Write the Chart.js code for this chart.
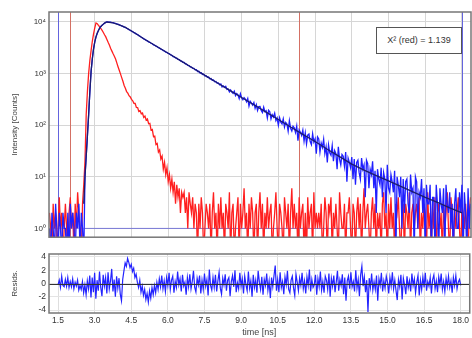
<!DOCTYPE html>
<html><head><meta charset="utf-8">
<script src="https://cdn.jsdelivr.net/npm/chart.js@4.4.0/dist/chart.umd.min.js"></script>
<style>
html,body{margin:0;padding:0;background:#fff;}
#wrap{position:relative;width:472px;height:338px;overflow:hidden;font-family:"Liberation Sans",Arial,sans-serif;}
#c1{position:absolute;left:0;top:0;}
#c2{position:absolute;left:0;top:245px;}
#chi{position:absolute;left:376px;top:27px;width:86px;height:27px;box-sizing:border-box;border:1px solid #555;background:#fff;font-size:9px;color:#333;line-height:25px;text-align:center;white-space:nowrap;}
</style></head><body>
<div id="wrap">
<canvas id="c1" width="472" height="245"></canvas>
<canvas id="c2" width="472" height="93"></canvas>
<div id="chi"></div>
</div>
<script>
// ---- channel calibration ----
const T0 = 1.15;          // first channel time [ns]
const DT = 0.05;          // channel width [ns]
const RESID_T0 = 1.5;     // first residual channel [ns]
const X_MIN = 1.13, X_MAX = 18.37;

// ---- tick labels ----
const X_TICKS = [1.5, 3.0, 4.5, 6.0, 7.5, 9.0, 10.5, 12.0, 13.5, 15.0, 16.5, 18.0];
const Y_TICKS = [1, 10, 100, 1000, 10000];
const Y_TICK_LABELS = ['10⁰', '10¹', '10²', '10³', '10⁴'];
const RESID_TICKS = [-4, -2, 0, 2, 4];

// ---- cursors / fit range markers [ns] ----
const RED_MARKERS = [2.0, 11.35];
const BLUE_MARKERS = [1.5, 18.0];
const BASELINE_LEVEL = 1;
const BASELINE_START = 2.6;
const CHI_TEXT = 'X² (red) = 1.139';

// ---- decay (sample) counts per channel ----
const DECAY_COUNTS = [
1,0,2,1,0,3,1,0,2,1,
0,2,1,1,0,2,0,3,1,2,
1,0,2,1,3,0,2,1,0,10,
25,63,160,450,1100,1900,3000,4100,5100,6000,
6800,7500,8100,8600,9000,9400,9700,9900,9870,9820,
9790,9650,9600,9400,9330,9100,8990,8680,8540,8290,
8160,7900,7800,7480,7300,7010,6850,6580,6420,6170,
6020,5780,5650,5400,5250,5010,4870,4650,4550,4360,
4260,4080,4000,3830,3750,3580,3510,3370,3300,3150,
3100,2950,2900,2770,2720,2590,2550,2430,2400,2280,
2250,2120,2100,1990,1970,1860,1850,1740,1730,1630,
1630,1530,1520,1430,1420,1340,1330,1250,1250,1170,
1180,1090,1100,1020,1030,955,965,895,905,840,
850,785,795,735,745,688,700,645,655,602,
623,548,571,538,562,490,499,439,479,437,
411,453,371,406,384,324,405,334,308,341,
319,283,327,234,288,267,243,274,212,249,
192,228,230,191,175,222,182,190,137,193,
181,132,159,143,170,122,137,99,139,114,
105,132,92,113,105,76,122,87,77,95,
89,72,96,50,81,73,63,80,49,71,
43,64,67,48,42,68,47,54,28,59,
54,30,45,37,53,28,38,19,41,29,
26,40,20,32,28,14,38,22,17,27,
25,16,30,8,23,19,15,24,9,22,
7,19,21,12,9,23,14,17,4,21,
18,6,14,11,20,6,13,2,14,9,
7,15,4,12,9,2,17,6,5,11,
8,5,13,0,10,7,4,10,1,9,
2,8,9,3,2,11,5,6,0,10,
8,1,5,4,9,2,6,0,7,3,
3,7,0,4,4,0,7,3,0,6,
3,2,6,0,7,3,2,5,1,3,
0,3,6,1,1,5,2,7,0,5,
2,0,6,1,3
];

// ---- instrument response (IRF) counts per channel ----
const IRF_COUNTS = [
2,1,0,3,1,2,0,1,4,1,
2,0,1,3,1,0,2,4,1,2,
0,3,1,5,2,1,0,3,7,20,
160,450,1000,1800,2800,4200,5800,7600,9500,9200,
8500,8000,7400,6800,6200,5600,5100,4500,3950,3500,
3050,2700,2400,2150,1900,1600,1350,1150,980,830,
705,585,515,445,415,370,350,315,296,263,
262,220,218,184,190,165,171,141,150,125,
131,106,108,80,82,60,61,42,44,30,
33,22,25,14,19,11,15,8,11,6,
9,5,8,3,7,4,6,2,5,4,
5,2,4,1,5,3,2,4,1,3,
2,0,3,1,4,2,0,1,3,2,
1,3,0,2,5,1,2,0,3,1,
4,1,2,0,3,2,1,5,0,2,
3,0,1,2,4,0,3,1,2,6,
1,2,0,3,1,4,2,0,2,3,
0,2,5,1,3,0,2,1,4,1,
2,3,0,1,2,5,1,0,3,2,
1,0,4,2,1,3,0,2,6,1,
3,1,2,0,4,1,2,3,0,2,
0,4,1,2,3,0,5,1,2,1,
2,1,3,0,1,4,2,0,3,2,
4,0,2,1,3,1,0,5,2,1,
1,3,0,2,2,4,1,0,3,2,
0,2,4,1,3,0,2,6,1,2,
3,1,0,2,4,1,3,0,2,1,
2,0,3,5,1,2,0,3,1,4,
1,2,0,3,2,4,1,0,2,3,
0,3,2,1,5,0,2,3,1,2,
3,1,4,0,2,1,3,2,0,5,
1,2,0,3,1,4,0,2,3,1,
2,0,3,1,2,5,1,0,4,2,
0,3,1,2,4,1,0,3,2,1,
3,1,0,2,4
];

// ---- fitted curve ----
const FIT_TIME = [2.55,2.60,2.65,2.70,2.75,2.80,2.85,2.90,2.95,3.00,3.05,3.10,3.15,3.20,3.25,3.30,3.35,3.40,3.45,3.50,
3.75,4.00,4.25,4.50,4.75,5.00,
5.5,6.0,6.5,7.0,7.5,8.0,8.5,9.0,9.5,10.0,10.5,11.0,11.5,12.0,12.5,13.0,13.5,14.0,14.5,15.0,15.5,16.0,16.5,17.0,17.5,18.0];
const FIT_COUNTS = [3,10,25,63,160,450,1100,1950,3000,4100,5100,6000,6800,7500,8100,8600,9000,9400,9700,9900,
9560,8710,7760,6610,5620,4680,
3390,2455,1770,1273,917,661,476,343,247,178,128,92,66,48,34,24.5,17.6,13.4,10.5,8.3,6.5,5.1,4.0,3.2,2.5,2.0];

// ---- weighted residuals per channel (from 1.5 ns) ----
const RESIDUALS = [
-0.2,0.5,-0.6,1.1,-0.3,-0.5,0.6,-0.4,0.9,-0.6,
0.3,-0.5,0.7,-0.8,0.2,-0.4,0.5,-1.0,-0.3,-0.9,
0.3,-1.4,-0.2,-1.7,0.4,-0.8,1.2,-2.1,0.9,-1.3,
1.6,-2.3,0.5,-1.1,1.8,-0.6,-1.9,1.3,-0.4,0.9,
-1.5,1.7,-0.8,0.4,2.2,-1.2,0.6,-2.0,1.1,-0.7,
0.8,-1.6,-2.6,0.6,1.9,3.1,2.6,3.8,3.2,2.4,
2.9,1.8,2.3,0.9,1.4,0.2,-0.6,0.5,-1.3,-0.4,
-1.8,-0.9,-2.4,-1.5,-2.8,-1.1,-2.2,-0.6,-1.7,-0.3,
-1.4,0.2,-0.9,0.7,-0.5,1.2,-0.8,0.4,-1.2,0.9,
-0.3,1.6,-0.9,0.5,1.1,-1.4,0.3,-0.6,1.8,-0.2,
0.7,-1.2,1.3,-0.4,0.2,-1.7,0.9,-0.5,1.4,-0.8,
0.3,1.9,-0.6,-1.3,0.8,-0.2,1.2,-1.5,0.5,-0.9,
1.5,-0.4,0.6,-1.8,2.1,-0.3,-1.0,0.9,-0.6,1.3,
-1.2,0.4,1.7,-0.7,-1.6,0.8,-0.2,1.4,-1.1,0.5,
0.9,-1.9,0.3,1.2,-0.5,2.0,-1.3,0.1,-0.8,1.6,
-0.4,0.7,-1.5,1.1,-0.2,-1.1,1.8,-0.7,0.4,-2.0,
1.3,-0.6,0.5,-1.4,1.9,0.2,-0.9,1.0,-1.7,0.6,
-0.3,1.5,-1.0,0.4,-2.2,0.9,-0.5,1.2,2.7,-1.1,
0.6,-1.3,1.7,-0.6,0.3,-1.6,1.0,-0.2,1.9,-0.9,
-1.4,0.5,1.1,-0.7,-1.8,1.4,0.2,-1.1,0.8,-0.3,
1.6,-0.8,0.4,-1.5,1.0,-0.3,2.1,-1.2,0.6,-0.6,
-0.2,1.3,-1.7,0.7,-0.5,1.8,-1.0,0.3,-1.4,1.1,
0.5,-0.9,1.5,-2.0,0.8,-0.4,1.2,-1.3,0.2,1.9,
-1.1,0.6,-0.3,1.4,-1.6,0.9,-2.6,0.4,1.1,-0.8,
1.7,-0.5,0.3,-1.2,2.0,-0.7,0.6,-1.9,1.3,2.6,
-0.4,1.0,-1.3,0.5,-4.3,0.8,-0.6,1.5,-1.0,0.3,
-0.9,1.2,-2.6,0.7,-0.3,1.6,-1.2,0.4,-0.7,1.1,
0.2,-1.5,0.9,-0.4,1.7,-0.8,0.5,-1.1,-2.5,0.6,
-0.5,1.3,-2.4,0.8,-0.2,-1.6,1.1,-0.6,0.4,-1.2,
1.5,-0.3,0.7,-1.4,0.2,1.2,-1.8,0.5,-0.9,1.0,
-0.6,1.6,-1.1,0.3,-0.4,0.9,-1.5,0.6,1.3,-0.8,
0.4,-1.3,1.0,-0.2,1.5,-0.9,0.3,-1.2,0.8,-0.5,
1.1,-0.6,0.4,-1.4,0.9,-0.3,1.2,-0.8,0.2,0.6,
-0.3
];

// ---------------------------------------------------------------
document.getElementById('chi').textContent = CHI_TEXT;
Chart.defaults.font.family = '"Liberation Sans", Arial, sans-serif';
Chart.defaults.color = '#333';

const channelTimes = (n, t0) => Array.from({length: n}, (_, i) => +(t0 + i * DT).toFixed(2));
const ZERO_DRAW = 0.3; // empty channels are drawn at the bottom edge of the log axis
const toPoints = (times, vals, zeroFloor) =>
  vals.map((v, i) => ({x: times[i], y: (zeroFloor !== undefined && v <= 0) ? zeroFloor : v}));

const tMain = channelTimes(DECAY_COUNTS.length, T0);
const tRes = channelTimes(RESIDUALS.length, RESID_T0);

const lineDefaults = {pointRadius: 0, tension: 0, fill: false, borderWidth: 1.3};

const framePlugin = {
  id: 'frame',
  afterDraw(chart) {
    const {ctx, chartArea: a} = chart;
    ctx.save();
    ctx.strokeStyle = '#777';
    ctx.lineWidth = 1.5;
    ctx.strokeRect(a.left, a.top, a.right - a.left, a.bottom - a.top);
    ctx.restore();
  }
};
const markerPlugin = {
  id: 'markers',
  beforeDatasetsDraw(chart) {
    const {ctx, chartArea: a, scales: {x}} = chart;
    ctx.save();
    ctx.lineWidth = 1;
    const draw = (t, col) => {
      const px = Math.round(x.getPixelForValue(t)) + 0.5;
      ctx.strokeStyle = col;
      ctx.beginPath(); ctx.moveTo(px, a.top); ctx.lineTo(px, a.bottom); ctx.stroke();
    };
    RED_MARKERS.forEach(t => draw(t, 'rgb(212,112,100)'));
    BLUE_MARKERS.forEach(t => draw(t, 'rgb(100,100,222)'));
    ctx.restore();
  }
};
const zeroLinePlugin = {
  id: 'zeroLine',
  afterDatasetsDraw(chart) {
    const {ctx, chartArea: a, scales: {y}} = chart;
    const py = Math.round(y.getPixelForValue(0)) + 0.5;
    ctx.save();
    ctx.strokeStyle = '#333';
    ctx.lineWidth = 1;
    ctx.beginPath(); ctx.moveTo(a.left, py); ctx.lineTo(a.right, py); ctx.stroke();
    ctx.restore();
  }
};

new Chart(document.getElementById('c1'), {
  type: 'line',
  data: {
    datasets: [
      {label: 'Fit', data: toPoints(FIT_TIME, FIT_COUNTS), borderColor: '#1c1c6e', borderWidth: 1.3, pointRadius: 0, tension: 0, fill: false},
      Object.assign({}, lineDefaults, {label: 'Decay', data: toPoints(tMain, DECAY_COUNTS, ZERO_DRAW), borderColor: '#1f1fff'}),
      Object.assign({}, lineDefaults, {label: 'IRF', data: toPoints(tMain, IRF_COUNTS, ZERO_DRAW), borderColor: '#ff1f1f'}),
      Object.assign({}, lineDefaults, {label: 'Background', borderWidth: 1, data: [{x: BASELINE_START, y: BASELINE_LEVEL}, {x: X_MAX, y: BASELINE_LEVEL}], borderColor: '#7878d6'})
    ]
  },
  options: {
    responsive: false, animation: false, devicePixelRatio: 1, events: [],
    layout: {padding: {top: 12, right: 1, bottom: 2, left: 0}},
    plugins: {legend: {display: false}, tooltip: {enabled: false}},
    scales: {
      x: {
        type: 'linear', min: X_MIN, max: X_MAX,
        afterBuildTicks: s => { s.ticks = X_TICKS.map(v => ({value: v})); },
        ticks: {display: false},
        grid: {color: '#d6d6d6', drawTicks: false},
        border: {display: false},
        afterFit: s => { s.height = 0; }
      },
      y: {
        type: 'logarithmic', min: 0.676, max: 15450,
        afterBuildTicks: s => { s.ticks = Y_TICKS.map(v => ({value: v})); },
        ticks: {callback: (v, i) => Y_TICK_LABELS[i], font: {size: 8}, color: '#333', padding: 3, autoSkip: false},
        grid: {color: '#d6d6d6', drawTicks: false},
        border: {display: false},
        title: {display: true, text: 'Intensity [Counts]', font: {size: 8}, color: '#444', padding: {top: 10, bottom: 0}},
        afterFit: s => { s.width = 49; }
      }
    }
  },
  plugins: [markerPlugin, framePlugin]
});

new Chart(document.getElementById('c2'), {
  type: 'line',
  data: {
    datasets: [
      Object.assign({}, lineDefaults, {label: 'Residuals', borderWidth: 1.2, data: toPoints(tRes, RESIDUALS), borderColor: '#2323ff'})
    ]
  },
  options: {
    responsive: false, animation: false, devicePixelRatio: 1, events: [],
    layout: {padding: {top: 9, right: 1, bottom: 0, left: 0}},
    plugins: {legend: {display: false}, tooltip: {enabled: false}},
    scales: {
      x: {
        type: 'linear', min: X_MIN, max: X_MAX,
        afterBuildTicks: s => { s.ticks = X_TICKS.map(v => ({value: v})); },
        ticks: {callback: v => v.toFixed(1), font: {size: 8.5}, color: '#333', padding: 3, autoSkip: false, maxRotation: 0},
        grid: {color: '#dedede', drawTicks: false},
        border: {display: false},
        title: {display: true, text: 'time [ns]', font: {size: 9}, color: '#444', padding: {top: 0, bottom: 0}},
        afterFit: s => { s.height = 25; }
      },
      y: {
        type: 'linear', min: -4.45, max: 4.45,
        afterBuildTicks: s => { s.ticks = RESID_TICKS.map(v => ({value: v})); },
        ticks: {font: {size: 8.5}, color: '#333', padding: 3, autoSkip: false},
        grid: {color: '#e4e4e4', drawTicks: false},
        border: {display: false},
        title: {display: true, text: 'Resids.', font: {size: 8}, color: '#444', padding: {top: 10, bottom: 0}},
        afterFit: s => { s.width = 49; }
      }
    }
  },
  plugins: [zeroLinePlugin, framePlugin]
});
</script>
</body></html>
